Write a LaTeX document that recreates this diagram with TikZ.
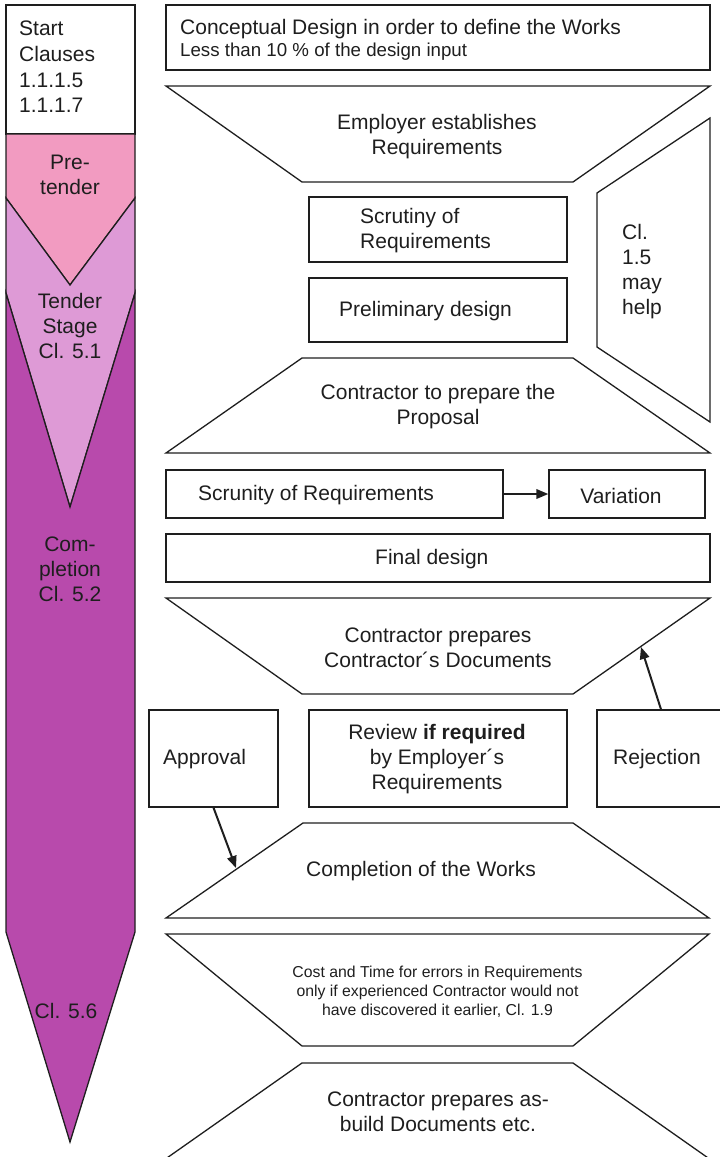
\documentclass[tikz,border=0pt]{standalone}
\usepackage{fontspec}
\setmainfont{Liberation Sans}
\usetikzlibrary{arrows.meta}
\definecolor{pinkc}{RGB}{242,155,193}
\definecolor{lilac}{RGB}{222,154,214}
\definecolor{plum}{RGB}{184,74,172}
\definecolor{ink}{RGB}{30,30,30}
\begin{document}
\begin{tikzpicture}[x=1pt,y=-1pt,
  shapeline/.style={draw=ink, line width=1.3pt, line join=miter},
  box/.style={shapeline, rectangle, inner sep=0pt},
  txt/.style={font=\fontsize{21}{25}\selectfont, inner sep=0pt, align=center, text=ink},
  smalltxt/.style={font=\fontsize{15.8}{19}\selectfont, inner sep=0pt, align=center, text=ink},
  flow/.style={draw=ink, line width=2pt, -{Triangle[length=12pt,width=9.5pt]}}]
\useasboundingbox (0,0) rectangle (720,1157);
\clip (0,0) rectangle (720,1157);

% ---------- left phase column ----------
\filldraw[fill=white, shapeline] (6,5) rectangle (135,134);
\filldraw[fill=pinkc, shapeline] (6,134) -- (135,134) -- (135,198) -- (70,285) -- (6,198) -- cycle;
\filldraw[fill=lilac, shapeline] (6,198) -- (70,285) -- (135,198) -- (135,293) -- (70,507) -- (6,293) -- cycle;
\filldraw[fill=plum, shapeline] (6,293) -- (70,507) -- (135,293) -- (135,932) -- (70,1142) -- (6,932) -- cycle;

\node[txt, align=left, anchor=west, font=\fontsize{21}{25.7}\selectfont] (start) at (19,67) {Start\\Clauses\\1.1.1.5\\1.1.1.7};
\node[txt] (pretender) at (70,175) {Pre-\\tender};
\node[txt] (tender) at (70,326) {Tender\\Stage\\Cl. 5.1};
\node[txt] (completion) at (70,569) {Com-\\pletion\\Cl. 5.2};
\node[txt] (cl56) at (66,1011) {Cl. 5.6};

% ---------- right flow ----------
\node[box, minimum width=544pt, minimum height=65pt] (concept) at (438,37.5) {};
\node[txt, align=left, anchor=west] (concepttext) at (180,39.5)
  {Conceptual Design in order to define the Works\\[-3pt]{\fontsize{18.7}{22}\selectfont Less than 10 \% of the design input}};

\draw[shapeline] (166,86) -- (710,86) -- (573,182) -- (302,182) -- cycle;
\node[txt] (employer) at (437,137) {Employer establishes\\Requirements};

\node[box, minimum width=258pt, minimum height=65pt] (scrutiny) at (438,229.5) {};
\node[txt, align=left, anchor=west] (scrutinytext) at (360,231) {Scrutiny of\\Requirements};

\node[box, minimum width=258pt, minimum height=64pt] (prelim) at (438,310) {};
\node[txt, anchor=west] (prelimtext) at (339,311.5) {Preliminary design};

\draw[shapeline] (597,193) -- (710,118) -- (710,422) -- (597,347) -- cycle;
\node[txt, align=left, anchor=west] (cl15) at (622,272) {Cl.\\1.5\\may\\help};

\draw[shapeline] (302,358) -- (573,358) -- (710,453) -- (166,453) -- cycle;
\node[txt] (proposal) at (438,407) {Contractor to prepare the\\Proposal};

\node[box, minimum width=337pt, minimum height=48pt] (scrunity) at (334.5,494) {};
\node[txt, anchor=west] (scrunitytext) at (198,495.5) {Scrunity of Requirements};
\node[box, minimum width=156pt, minimum height=48pt] (variation) at (627,494) {};
\node[txt] (variationtext) at (621,495.5) {Variation};
\draw[flow] (scrunity.east) -- (variation.west);

\node[box, minimum width=544pt, minimum height=48pt] (final) at (438,558) {};
\node[txt, anchor=west] (finaltext) at (375,559.5) {Final design};

\draw[shapeline] (166,598) -- (710,598) -- (573,694) -- (302,694) -- cycle;
\node[txt] (docs) at (438,647.5) {Contractor prepares\\Contractor´s Documents};
\coordinate (docsedge) at (641,647);

\node[box, minimum width=129pt, minimum height=97pt] (approval) at (213.5,758.5) {};
\node[txt, anchor=west] (approvaltext) at (163,759.5) {Approval};
\node[box, minimum width=258pt, minimum height=97pt] (review) at (438,758.5) {};
\node[txt] (reviewtext) at (437,759.5) {Review \textbf{if required}\\by Employer´s\\Requirements};
\node[box, minimum width=128pt, minimum height=97pt] (rejection) at (661,758.5) {};
\node[txt, anchor=west] (rejectiontext) at (613,759.5) {Rejection};

\draw[shapeline] (303,823) -- (573,823) -- (709,918) -- (166,918) -- cycle;
\node[txt] (works) at (421,871.5) {Completion of the Works};
\coordinate (worksedge) at (236,868);

\draw[flow] (rejection.north) -- (docsedge);
\draw[flow] (approval.south) -- (worksedge);

\draw[shapeline] (166,934) -- (709,934) -- (573,1046) -- (302,1046) -- cycle;
\node[smalltxt] (cost) at (437.5,992) {Cost and Time for errors in Requirements\\only if experienced Contractor would not\\have discovered it earlier, Cl. 1.9};

\draw[shapeline] (302,1063) -- (573,1063) -- (711,1160) -- (164,1160) -- cycle;
\node[txt] (asbuilt) at (438,1112) {Contractor prepares as-\\build Documents etc.};
\end{tikzpicture}
\end{document}
